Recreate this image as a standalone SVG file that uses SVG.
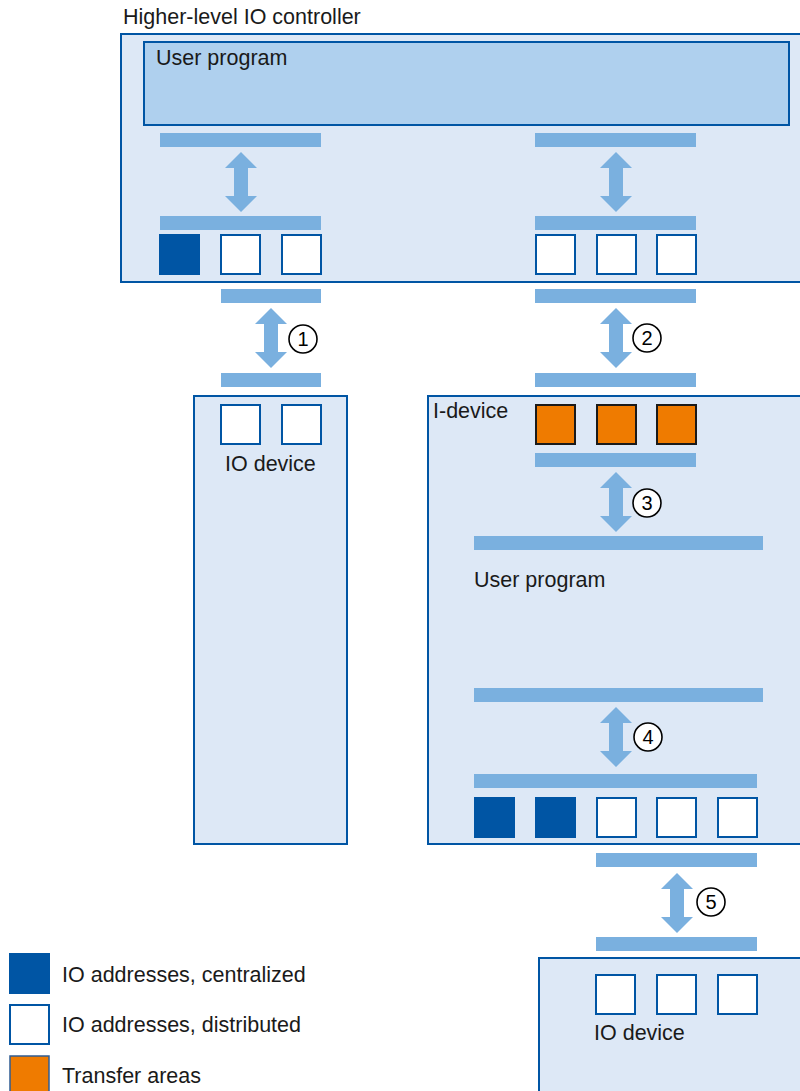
<svg xmlns="http://www.w3.org/2000/svg" width="800" height="1091" viewBox="0 0 800 1091">
<defs>
<style>
.box{fill:#dde8f6;stroke:#0055a4;stroke-width:2}
.prog{fill:#afd0ee;stroke:#0055a4;stroke-width:2}
.bar{fill:#7ab0df}
.arr{fill:#7ab0df}
.sq{fill:#ffffff;stroke:#0055a4;stroke-width:2}
.sqd{fill:#0055a4}
.sqo{fill:#ef7b00;stroke:#1a1a1a;stroke-width:2}
.t{font-family:"Liberation Sans",Arial,sans-serif;font-size:21.5px;fill:#1a1a1a}
.num{fill:#ffffff;stroke:#000000;stroke-width:1.6}
.nt{font-family:"Liberation Sans",Arial,sans-serif;font-size:20px;fill:#000000;text-anchor:middle}
</style>
<path id="dbl" d="M0,0 L16,16 L7,16 L7,44 L16,44 L0,60 L-16,44 L-7,44 L-7,16 L-16,16 Z"/>
</defs>
<rect width="800" height="1091" fill="#ffffff"/>

<g id="controller">
<text class="t" x="123" y="24">Higher-level IO controller</text>
<rect class="box" x="121" y="34" width="690" height="248"/>
<rect class="prog" x="144" y="42" width="645" height="83"/>
<text class="t" x="156" y="65">User program</text>
<rect class="bar" x="160" y="133" width="161" height="14"/>
<rect class="bar" x="535" y="133" width="161" height="14"/>
<rect class="bar" x="160" y="216" width="161" height="14"/>
<rect class="bar" x="535" y="216" width="161" height="14"/>
<rect class="sqd" x="159" y="234" width="41" height="41"/>
<rect class="sq" x="221" y="235" width="39" height="39"/>
<rect class="sq" x="282" y="235" width="39" height="39"/>
<rect class="sq" x="536" y="235" width="39" height="39"/>
<rect class="sq" x="597" y="235" width="39" height="39"/>
<rect class="sq" x="657" y="235" width="39" height="39"/>
</g>

<g id="io-device-1">
<rect class="box" x="194" y="396" width="153" height="448"/>
<rect class="sq" x="221" y="405" width="39" height="39"/>
<rect class="sq" x="282" y="405" width="39" height="39"/>
<text class="t" x="225" y="471">IO device</text>
</g>

<g id="i-device">
<rect class="box" x="428" y="396" width="380" height="448"/>
<text class="t" x="433" y="418">I-device</text>
<rect class="sqo" x="536" y="405" width="39" height="39"/>
<rect class="sqo" x="597" y="405" width="39" height="39"/>
<rect class="sqo" x="657" y="405" width="39" height="39"/>
<rect class="bar" x="535" y="453" width="161" height="14"/>
<rect class="bar" x="474" y="536" width="289" height="14"/>
<text class="t" x="474" y="587">User program</text>
<rect class="bar" x="474" y="688" width="289" height="14"/>
<rect class="bar" x="474" y="774" width="283" height="14"/>
<rect class="sqd" x="474" y="797" width="41" height="41"/>
<rect class="sqd" x="535" y="797" width="41" height="41"/>
<rect class="sq" x="597" y="798" width="39" height="39"/>
<rect class="sq" x="657" y="798" width="39" height="39"/>
<rect class="sq" x="718" y="798" width="39" height="39"/>
</g>

<g id="io-device-2">
<rect class="box" x="539" y="958" width="270" height="140"/>
<rect class="sq" x="596" y="975" width="39" height="39"/>
<rect class="sq" x="657" y="975" width="39" height="39"/>
<rect class="sq" x="718" y="975" width="39" height="39"/>
<text class="t" x="594" y="1040">IO device</text>
</g>

<g id="connectors">
<rect class="bar" x="221" y="289" width="100" height="14"/>
<rect class="bar" x="535" y="289" width="161" height="14"/>
<rect class="bar" x="221" y="373" width="100" height="14"/>
<rect class="bar" x="535" y="373" width="161" height="14"/>
<rect class="bar" x="596" y="853" width="161" height="14"/>
<rect class="bar" x="596" y="937" width="161" height="14"/>
<use href="#dbl" class="arr" x="241" y="152"/>
<use href="#dbl" class="arr" x="616" y="152"/>
<use href="#dbl" class="arr" x="271" y="308"/>
<use href="#dbl" class="arr" x="616" y="308"/>
<use href="#dbl" class="arr" x="616" y="472"/>
<use href="#dbl" class="arr" x="616" y="707"/>
<use href="#dbl" class="arr" x="677" y="873"/>
<circle class="num" cx="303" cy="339" r="14"/>
<text class="nt" x="303" y="346">1</text>
<circle class="num" cx="647" cy="338" r="14"/>
<text class="nt" x="647" y="345">2</text>
<circle class="num" cx="647" cy="503" r="14"/>
<text class="nt" x="647" y="510">3</text>
<circle class="num" cx="648" cy="737" r="14"/>
<text class="nt" x="648" y="744">4</text>
<circle class="num" cx="711" cy="902" r="14"/>
<text class="nt" x="711" y="909">5</text>
</g>

<g id="legend">
<rect class="sqd" x="9" y="953" width="41" height="41"/>
<text class="t" x="62" y="982">IO addresses, centralized</text>
<rect class="sq" x="10" y="1005" width="39" height="39"/>
<text class="t" x="62" y="1032">IO addresses, distributed</text>
<rect x="10" y="1056" width="39" height="39" fill="#ef7b00" stroke="#2f5c93" stroke-width="1.5"/>
<text class="t" x="62" y="1083">Transfer areas</text>
</g>
</svg>
